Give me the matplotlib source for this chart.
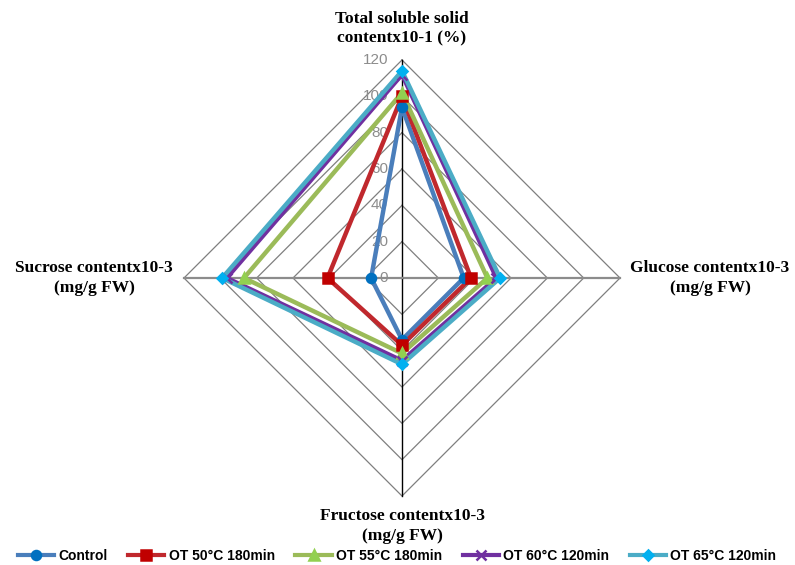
import numpy as np
import matplotlib
matplotlib.use("Agg")
import matplotlib.pyplot as plt
from matplotlib.lines import Line2D

# Axis categories (clockwise from top)
categories = [
    "Total soluble solid\ncontentx10-1 (%)",
    "Glucose contentx10-3\n(mg/g FW)",
    "Fructose contentx10-3\n(mg/g FW)",
    "Sucrose contentx10-3\n(mg/g FW)",
]
series_names = ["Control", "OT 50°C 180min", "OT 55°C 180min",
                "OT 60°C 120min", "OT 65°C 120min"]
control = [94, 34, 34, 17]
ot50 = [100, 38, 37, 41]
ot55 = [102, 47, 41.5, 87]
ot60 = [112, 52, 45.5, 96.5]
ot65 = [114, 54, 47.5, 99]
ticks = [0, 20, 40, 60, 80, 100, 120]

values = [control, ot50, ot55, ot60, ot65]
line_colors = ["#4A7EBB", "#C0282D", "#9BBB59", "#7030A0", "#4BACC6"]
marker_colors = ["#0070C0", "#C00000", "#92D050", "#7030A0", "#00B0F0"]
markers = ["o", "s", "^", "x", "D"]
msizes = [6.5, 6.5, 7.5, 6.5, 5.5]

W, H = 795, 565
cx, cy = 402, 278          # centre in pixels (from top-left)
rmax_px = 218
rmax = ticks[-1]
s = rmax_px / rmax          # pixels per unit

fig = plt.figure(figsize=(W / 100, H / 100), dpi=100)
ax = fig.add_axes([0, 0, 1, 1])
ax.set_xlim(-cx / s, (W - cx) / s)
ax.set_ylim(-(H - cy) / s, cy / s)
ax.axis("off")

angles = np.pi / 2 - np.arange(len(categories)) * 2 * np.pi / len(categories)


def to_xy(vals):
    v = np.asarray(vals, dtype=float)
    return v * np.cos(angles), v * np.sin(angles)


# Diamond grid rings
for t in ticks[1:]:
    gx, gy = to_xy([t] * len(categories))
    ax.plot(np.append(gx, gx[0]), np.append(gy, gy[0]), color="#7F7F7F",
            lw=0.9, zorder=1)

# Spokes
for i, a in enumerate(angles):
    vertical = abs(np.cos(a)) < 1e-6
    ax.plot([0, rmax * np.cos(a)], [0, rmax * np.sin(a)],
            color="#000000" if vertical else "#8C8C8C",
            lw=1.0 if vertical else 1.6, zorder=1)

# Value labels along the vertical axis
for t in ticks:
    ax.text(-14 / s, t, str(t), ha="right", va="center", fontsize=11,
            color="#8C8C8C", family="Liberation Sans", zorder=2)

# Data series
handles = []
for vals, name, lc, mc, mk, ms in zip(values, series_names, line_colors,
                                       marker_colors, markers, msizes):
    px, py = to_xy(vals)
    ax.plot(np.append(px, px[0]), np.append(py, py[0]), color=lc, lw=3.2,
            zorder=3, solid_joinstyle="miter")
    ax.plot(px, py, linestyle="none", marker=mk, markersize=ms,
            markerfacecolor=mc, markeredgecolor=mc, markeredgewidth=1.8,
            zorder=4)
    handles.append(Line2D([0], [0], color=lc, lw=3, marker=mk,
                          markersize=ms, markerfacecolor=mc,
                          markeredgecolor=mc, markeredgewidth=1.8, label=name))

# Category labels
lab_kw = dict(fontsize=12.5, fontweight="bold", family="Liberation Serif",
              color="#000000", linespacing=1.3)
fig.text(402 / W, 1 - 29 / H, categories[0], ha="center", va="center", **lab_kw)
fig.text(710 / W, 1 - 278 / H, categories[1], ha="center", va="center", **lab_kw)
fig.text(402 / W, 1 - 526 / H, categories[2], ha="center", va="center", **lab_kw)
fig.text(94 / W, 1 - 278 / H, categories[3], ha="center", va="center", **lab_kw)

fig.legend(handles=handles, loc="center", bbox_to_anchor=(397 / W, 1 - 556 / H),
           ncol=5, frameon=False, handlelength=2.6, handletextpad=0.3,
           columnspacing=1.5, prop={"family": "Liberation Sans",
                                    "weight": "bold", "size": 10})

fig.savefig("out.png", dpi=100)
